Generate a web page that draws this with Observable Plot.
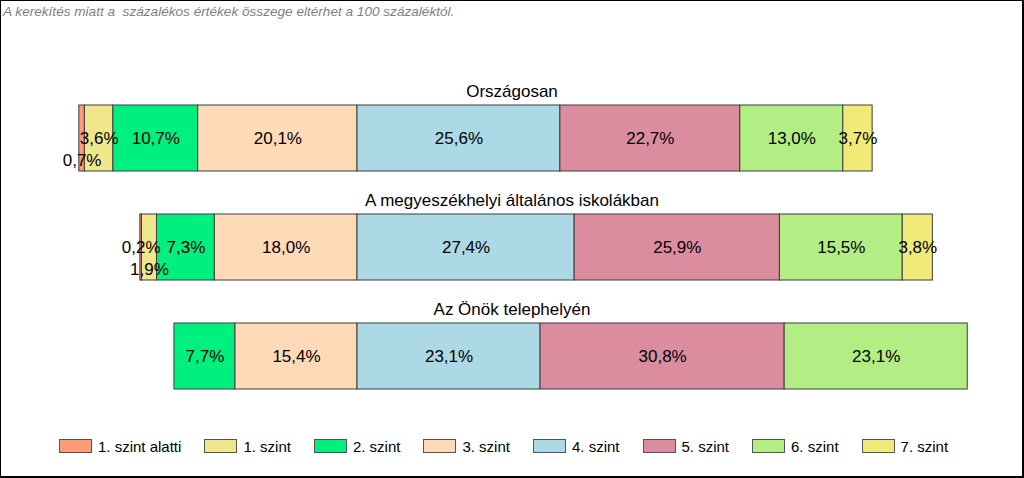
<!DOCTYPE html>
<html><head><meta charset="utf-8">
<script src="https://cdn.jsdelivr.net/npm/d3@7"></script>
<script src="https://cdn.jsdelivr.net/npm/@observablehq/plot@0.6"></script>
<style>
body{margin:0;background:#fff;font-family:"Liberation Sans",Arial,sans-serif}
#wrap{position:relative;width:1024px;height:478px;overflow:hidden;background:#fff}
#frame{position:absolute;left:0;top:0;width:1024px;height:478px;box-sizing:border-box;border-left:1px solid #000;border-top:1px solid #000;border-right:2px solid #000;border-bottom:2px solid #000;pointer-events:none}
#sub{height:18px;padding-top:2px;line-height:20px;padding-left:3px;font-style:italic;font-size:13.6px;color:#7f7f7f;white-space:pre}
#chart svg{display:block}
#legend{display:flex;align-items:center;height:28px;padding-left:59px;gap:23px;font-size:15px;color:#000}
.item{display:flex;align-items:center}
.sw{width:31px;height:12px;border:1px solid #555;margin-right:6px}
</style></head>
<body>
<div id="wrap">
<div id="sub">A kerekítés miatt a  százalékos értékek összege eltérhet a 100 százaléktól.</div>
<div id="chart"></div>
<div id="legend"></div>
<div id="frame"></div>
</div>
<script>
const rows = ["Országosan", "A megyeszékhelyi általános iskolákban", "Az Önök telephelyén"];
const levels = ["1. szint alatti", "1. szint", "2. szint", "3. szint", "4. szint", "5. szint", "6. szint", "7. szint"];
const colors = ["#FF9B78", "#F0E68C", "#00F07F", "#FFDAB9", "#ADD8E6", "#DB8C9F", "#B2EE84", "#F0EB78"];
const orszagosan = [0.7, 3.6, 10.7, 20.1, 25.6, 22.7, 13.0, 3.7];
const megyeszekhely = [0.2, 1.9, 7.3, 18.0, 27.4, 25.9, 15.5, 3.8];
const telephely = [0, 0, 7.7, 15.4, 23.1, 30.8, 23.1, 0];

const seriesByRow = [orszagosan, megyeszekhely, telephely];
const data = [];
rows.forEach((r, i) => {
  seriesByRow[i].forEach((val, j) => {
    if (val > 0) data.push({row: r, level: levels[j], val, v: j <= 3 ? -val : val});
  });
});
// labels drawn lower in the bar (layout tweak for tiny segments)
const lowered = new Set([rows[0] + "|" + levels[0], rows[1] + "|" + levels[1]]);
const isLow = d => lowered.has(d.row + "|" + d.level);
const fmt = v => v.toFixed(1).replace(".", ",") + "%";
const order = levels.slice(0, 4).reverse().concat(levels.slice(4));

const chart = Plot.plot({
  width: 1024, height: 412,
  marginLeft: 40, marginRight: 33, marginTop: 42, marginBottom: 0,
  x: {domain: [-40, 80], axis: null},
  y: {domain: rows, axis: null, padding: 0.394},
  color: {domain: levels, range: colors},
  style: {fontFamily: "'Liberation Sans', Arial, sans-serif", background: "white", overflow: "visible"},
  marks: [
    Plot.barX(data, Plot.stackX({x: "v", y: "row", fill: "level", order, stroke: "#3c3c3c", strokeWidth: 1})),
    Plot.text(data, Plot.stackX({x: "v", y: "row", z: "level", order, text: d => isLow(d) ? null : fmt(d.val), fill: "#000", fontSize: 17})),
    Plot.text(data, Plot.stackX({x: "v", y: "row", z: "level", order, text: d => isLow(d) ? fmt(d.val) : null, fill: "#000", fontSize: 17, dy: 22})),
    Plot.text(rows, {y: d => d, text: d => d, frameAnchor: "middle", dx: -4, dy: -47, fontSize: 17, fill: "#000"})
  ]
});
document.getElementById("chart").appendChild(chart);

const leg = document.getElementById("legend");
levels.forEach((l, i) => {
  const it = document.createElement("div");
  it.className = "item";
  const sw = document.createElement("div");
  sw.className = "sw";
  sw.style.background = colors[i];
  const t = document.createElement("span");
  t.textContent = l;
  it.appendChild(sw); it.appendChild(t);
  leg.appendChild(it);
});
</script>
</body></html>
